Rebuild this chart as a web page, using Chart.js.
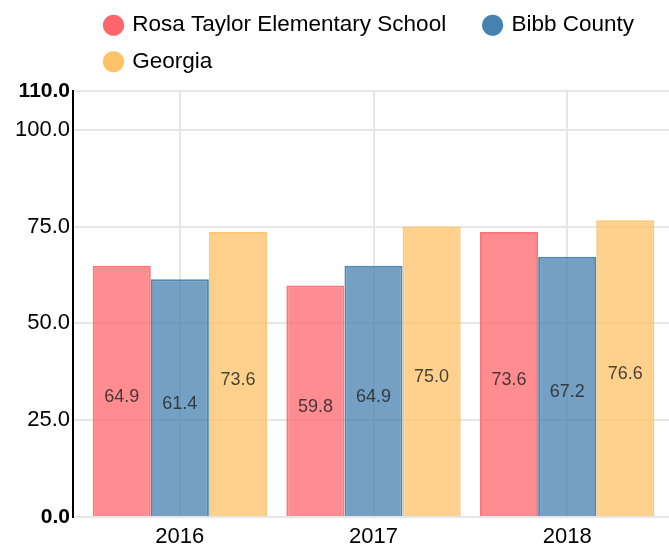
<!DOCTYPE html>
<html>
<head>
<meta charset="utf-8">
<script src="https://cdn.jsdelivr.net/npm/chart.js@4.4.1/dist/chart.umd.min.js"></script>
<style>
  html, body { margin: 0; padding: 0; background: #fff; }
  #wrap { width: 669px; height: 550px; position: relative; }
</style>
</head>
<body>
<div id="wrap"><canvas id="chart"></canvas></div>
<script>
const years = ['2016', '2017', '2018'];
const seriesNames = ['Rosa Taylor Elementary School', 'Bibb County', 'Georgia'];
const rosaTaylor = [64.9, 59.8, 73.6];
const bibbCounty = [61.4, 64.9, 67.2];
const georgia = [73.6, 75.0, 76.6];
const yTicks = [0, 25, 50, 75, 100, 110];

const FONT = "'Liberation Sans', Arial, Helvetica, sans-serif";
const gridColor = '#e6e6e6';

// value labels in the middle of each bar
const barLabels = {
  id: 'barLabels',
  afterDatasetsDraw(chart) {
    const ctx = chart.ctx;
    ctx.save();
    ctx.font = '18px ' + FONT;
    ctx.fillStyle = 'rgba(40, 40, 40, 0.85)';
    ctx.textAlign = 'center';
    ctx.textBaseline = 'middle';
    chart.data.datasets.forEach((ds, i) => {
      chart.getDatasetMeta(i).data.forEach((bar, j) => {
        const mid = (bar.y + bar.base) / 2 + 6;
        ctx.fillText(ds.data[j].toFixed(1), bar.x, mid);
      });
    });
    ctx.restore();
  }
};

// nudge legend and category axis to sit like the original
const layoutTweak = {
  id: 'layoutTweak',
  afterLayout(chart) {
    const area = chart.chartArea;
    chart.legend.left = area.left + 19;
    chart.legend.right = chart.width;
    chart.legend.top -= 8;
    const x = chart.scales.x;
    x.left = area.left + 10;
    x.right = area.right - 5;
    x.width = x.right - x.left;
    x.configure();
  }
};

// wider gap after the first legend entry
const pad = '    ';

new Chart(document.getElementById('chart').getContext('2d'), {
  type: 'bar',
  data: {
    labels: years,
    datasets: [{
      label: seriesNames[0],
      data: rosaTaylor,
      backgroundColor: 'rgba(255, 102, 107, 0.75)',
      borderColor: 'rgba(255, 102, 107, 0.9)',
      borderWidth: 2
    }, {
      label: seriesNames[1],
      data: bibbCounty,
      backgroundColor: 'rgba(70, 130, 175, 0.75)',
      borderColor: 'rgba(70, 130, 175, 0.95)',
      borderWidth: 2
    }, {
      label: seriesNames[2],
      data: georgia,
      backgroundColor: 'rgba(255, 194, 102, 0.75)',
      borderColor: 'rgba(255, 194, 102, 0.9)',
      borderWidth: 2
    }]
  },
  options: {
    responsive: true,
    maintainAspectRatio: false,
    animation: false,
    layout: { padding: { top: 8 } },
    datasets: {
      bar: { barPercentage: 1, categoryPercentage: 0.9 }
    },
    plugins: {
      legend: {
        position: 'top',
        align: 'start',
        labels: {
          usePointStyle: true,
          pointStyle: 'circle',
          boxWidth: 15,
          boxHeight: 15,
          padding: 14,
          color: '#000',
          font: { family: FONT, size: 22.5 },
          generateLabels(chart) {
            return Chart.defaults.plugins.legend.labels.generateLabels(chart).map(item => {
              const ds = chart.data.datasets[item.datasetIndex];
              if (item.datasetIndex === 0) item.text = item.text + pad;
              item.fillStyle = ds.borderColor.replace(/[\d.]+\)$/, '1)');
              item.strokeStyle = item.fillStyle;
              item.lineWidth = 0;
              return item;
            });
          }
        }
      },
      tooltip: { enabled: false }
    },
    scales: {
      x: {
        afterFit(scale) {
          scale.height = 33;
        },
        grid: {
          color: gridColor,
          lineWidth: 2,
          offset: false,
          drawTicks: false
        },
        border: { color: gridColor, width: 2 },
        ticks: {
          color: '#000',
          padding: 7,
          font: { family: FONT, size: 22 }
        }
      },
      y: {
        min: 0,
        max: 110,
        afterBuildTicks(scale) {
          scale.ticks = yTicks.map(v => ({ value: v }));
        },
        afterFit(scale) {
          scale.width = 73;
        },
        grid: {
          color: gridColor,
          lineWidth: 2,
          drawTicks: false
        },
        border: { color: '#000', width: 2 },
        ticks: {
          color: '#000',
          padding: 3,
          callback: v => Number(v).toFixed(1),
          font: ctx => {
            const edge = ctx.tick && (ctx.tick.value === 0 || ctx.tick.value === 110);
            return { family: FONT, size: edge ? 21 : 22, weight: edge ? 'bold' : 'normal' };
          }
        }
      }
    }
  },
  plugins: [barLabels, layoutTweak]
});
</script>
</body>
</html>
